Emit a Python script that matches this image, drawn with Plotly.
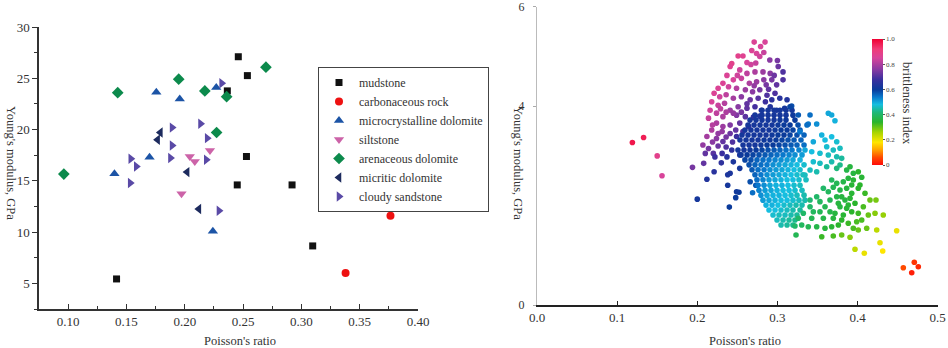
import plotly.graph_objects as go

SERIF = "Liberation Serif, Times New Roman, serif"

# ---------------- Left panel: Young's modulus vs Poisson's ratio by lithology ----------------
mud_x = [0.2459, 0.2537, 0.2365, 0.2529, 0.2450, 0.2920, 0.3097, 0.1415]
mud_y = [27.10, 25.26, 23.77, 17.37, 14.60, 14.60, 8.65, 5.43]
carb_x = [0.3764, 0.3379]
carb_y = [11.60, 6.02]
micro_x = [0.1756, 0.1957, 0.2270, 0.1698, 0.1397, 0.2241]
micro_y = [23.64, 22.99, 24.09, 17.31, 15.69, 10.07]
silt_x = [0.2216, 0.2043, 0.2086, 0.1972]
silt_y = [17.96, 17.37, 16.88, 13.74]
aren_x = [0.1948, 0.1425, 0.2172, 0.2359, 0.2273, 0.0963, 0.2696]
aren_y = [24.91, 23.60, 23.77, 23.21, 19.71, 15.66, 26.08]
micri_x = [0.1791, 0.1767, 0.2020, 0.2121]
micri_y = [19.71, 19.00, 15.85, 12.25]
cloudy_x = [0.2316, 0.1891, 0.2135, 0.2192, 0.1891, 0.1537, 0.1877, 0.2184, 0.1584, 0.1532, 0.2293]
cloudy_y = [24.52, 20.19, 20.56, 19.16, 18.44, 17.15, 17.22, 17.05, 16.40, 14.78, 12.08]

left_x_ticks = [0.10, 0.15, 0.20, 0.25, 0.30, 0.35, 0.40]
left_x_labels = ["0.10", "0.15", "0.20", "0.25", "0.30", "0.35", "0.40"]
left_y_ticks = [5, 10, 15, 20, 25, 30]

# ---------------- Right panel: (Poisson's ratio, Young's modulus, brittleness index) ----------------
outlier_pts = [
    (0.119, 3.27, 0.97), (0.133, 3.37, 0.96), (0.150, 3.00, 0.88), (0.156, 2.60, 0.85),
]
upper_pts = [
    (0.271, 5.29, 0.86), (0.2845, 5.29, 0.85), (0.279, 5.20, 0.85), (0.274, 5.06, 0.85), (0.278, 5.00, 0.84), (0.283, 5.08, 0.83),
    (0.251, 5.01, 0.88), (0.257, 5.01, 0.87), (0.243, 4.86, 0.88), (0.241, 4.80, 0.87), (0.267, 4.84, 0.84), (0.273, 4.87, 0.83),
    (0.2905, 4.93, 0.76), (0.300, 4.92, 0.74), (0.301, 4.80, 0.73),
    (0.253, 4.73, 0.84), (0.262, 4.66, 0.82), (0.272, 4.69, 0.80), (0.282, 4.69, 0.78), (0.291, 4.66, 0.76), (0.307, 4.69, 0.70),
    (0.245, 4.53, 0.85), (0.255, 4.56, 0.83), (0.265, 4.46, 0.80), (0.274, 4.49, 0.78), (0.283, 4.53, 0.76), (0.293, 4.53, 0.74),
    (0.299, 4.43, 0.72), (0.307, 4.53, 0.70),
    (0.232, 4.46, 0.86), (0.226, 4.36, 0.86), (0.239, 4.39, 0.84), (0.249, 4.36, 0.81), (0.260, 4.33, 0.78), (0.269, 4.29, 0.76),
    (0.278, 4.33, 0.74), (0.289, 4.34, 0.72), (0.297, 4.26, 0.70),
    (0.221, 4.26, 0.86), (0.228, 4.19, 0.84), (0.236, 4.23, 0.82), (0.245, 4.16, 0.79), (0.255, 4.19, 0.76), (0.266, 4.13, 0.73),
    (0.276, 4.16, 0.71), (0.285, 4.09, 0.68), (0.293, 4.13, 0.66), (0.303, 4.16, 0.65), (0.312, 4.13, 0.64),
    (0.218, 4.09, 0.85), (0.226, 4.02, 0.83), (0.234, 4.06, 0.81), (0.241, 3.92, 0.78), (0.251, 3.99, 0.76), (0.262, 3.96, 0.72),
    (0.272, 3.99, 0.69), (0.280, 3.92, 0.66), (0.291, 3.99, 0.64), (0.299, 3.92, 0.63), (0.309, 3.96, 0.62),
    (0.216, 3.92, 0.84), (0.224, 3.86, 0.82), (0.232, 3.79, 0.80), (0.249, 3.82, 0.75), (0.260, 3.79, 0.71), (0.270, 3.78, 0.67),
    (0.278, 3.80, 0.64),
    (0.214, 3.76, 0.83), (0.224, 3.66, 0.80), (0.241, 3.62, 0.75), (0.253, 3.66, 0.72), (0.264, 3.59, 0.68),
    (0.218, 3.52, 0.80), (0.231, 3.49, 0.77), (0.241, 3.45, 0.73),
    (0.212, 3.39, 0.79), (0.224, 3.35, 0.76), (0.232, 3.29, 0.72), (0.249, 3.39, 0.68),
    (0.207, 3.22, 0.77), (0.214, 3.15, 0.74), (0.220, 3.05, 0.71), (0.231, 3.05, 0.68), (0.243, 3.12, 0.66),
    (0.237, 2.98, 0.65), (0.253, 3.02, 0.64), (0.210, 3.05, 0.72),
    (0.229, 3.95, 0.82), (0.236, 3.88, 0.80), (0.245, 3.86, 0.77), (0.255, 3.88, 0.74), (0.219, 3.62, 0.81),
    (0.232, 3.59, 0.78), (0.248, 3.52, 0.72), (0.257, 3.49, 0.69), (0.226, 3.45, 0.77), (0.236, 3.38, 0.74),
    (0.244, 3.28, 0.70), (0.219, 3.28, 0.76), (0.226, 3.20, 0.73), (0.236, 3.18, 0.70), (0.262, 4.05, 0.72),
    (0.287, 4.22, 0.70), (0.271, 4.41, 0.77), (0.286, 4.43, 0.74), (0.296, 4.62, 0.73), (0.262, 4.88, 0.85),
    (0.268, 5.12, 0.86), (0.250, 4.62, 0.84), (0.237, 4.62, 0.86),
]
lower_left_pts = [
    (0.194, 2.77, 0.74), (0.208, 2.85, 0.72), (0.212, 2.53, 0.64), (0.221, 2.68, 0.65), (0.222, 2.98, 0.68),
    (0.200, 2.13, 0.62), (0.238, 2.41, 0.62), (0.240, 1.97, 0.60), (0.248, 2.16, 0.60), (0.252, 2.27, 0.60),
    (0.238, 2.62, 0.63), (0.245, 2.88, 0.63), (0.253, 2.75, 0.62), (0.266, 2.48, 0.58), (0.269, 2.26, 0.55),
    (0.230, 2.86, 0.66), (0.249, 2.28, 0.61), (0.241, 2.65, 0.63), (0.273, 2.41, 0.57),
]
core_rows_y = [3.92, 3.82, 3.72, 3.62, 3.52, 3.42, 3.32, 3.22, 3.12, 3.02, 2.92, 2.82,
               2.72, 2.62, 2.52, 2.41, 2.31, 2.21, 2.11, 2.01, 1.91, 1.81, 1.71, 1.61]
core_rows_x = [
    [.2808, .2883, .2958, .3032, .3107, .3182],
    [.2720, .2808, .2883, .2958, .3032, .3107, .3194],
    [.2658, .2733, .2808, .2883, .2958, .3032, .3107, .3219],
    [.2633, .2708, .2783, .2858, .2933, .3007, .3082, .3157, .3257],
    [.2595, .2670, .2745, .2820, .2895, .2970, .3045, .3120, .3194, .3282],
    [.2558, .2633, .2708, .2783, .2858, .2933, .3007, .3082, .3157, .3244, .3332],
    [.2533, .2608, .2683, .2758, .2833, .2907, .2982, .3057, .3132, .3207, .3294],
    [.2571, .2646, .2720, .2795, .2870, .2945, .3020, .3095, .3170, .3244, .3332],
    [.2508, .2583, .2658, .2733, .2808, .2883, .2958, .3032, .3107, .3182, .3269],
    [.2546, .2621, .2695, .2770, .2845, .2920, .2995, .3070, .3145, .3219, .3307],
    [.2595, .2670, .2745, .2820, .2895, .2970, .3045, .3120, .3194, .3282],
    [.2646, .2720, .2795, .2870, .2945, .3020, .3095, .3170, .3244, .3332],
    [.2683, .2758, .2833, .2907, .2982, .3057, .3132, .3207, .3282],
    [.2720, .2795, .2870, .2945, .3020, .3095, .3170, .3244, .3319],
    [.2745, .2820, .2895, .2970, .3045, .3120, .3194, .3269, .3357],
    [.2758, .2833, .2907, .2982, .3057, .3132, .3207, .3282],
    [.2770, .2845, .2920, .2995, .3070, .3145, .3219, .3307],
    [.2795, .2870, .2945, .3020, .3095, .3170, .3244, .3332],
    [.2820, .2895, .2970, .3045, .3120, .3194, .3269, .3344],
    [.2858, .2933, .3007, .3082, .3157, .3232, .3307],
    [.2895, .2970, .3045, .3120, .3194, .3282],
    [.2945, .3020, .3095, .3170, .3244],
    [.2995, .3070, .3145, .3219],
    [.3045, .3120, .3194],
]
core_rows_bi = [
    [.62, .62, .62, .62, .62, .62],
    [.62, .62, .62, .62, .62, .62, .61],
    [.62, .62, .62, .62, .62, .61, .61, .60],
    [.62, .62, .62, .62, .62, .61, .60, .60, .58],
    [.62, .62, .62, .62, .62, .61, .60, .60, .59, .57],
    [.62, .62, .62, .62, .62, .61, .60, .60, .59, .58, .56],
    [.62, .62, .62, .62, .61, .61, .60, .59, .58, .57, .56],
    [.62, .62, .62, .61, .60, .60, .59, .58, .57, .56, .55],
    [.62, .62, .61, .60, .59, .58, .57, .56, .55, .54, .53],
    [.61, .60, .59, .58, .57, .56, .55, .54, .53, .52, .51],
    [.59, .58, .56, .55, .54, .53, .52, .51, .50, .49],
    [.58, .56, .55, .54, .52, .51, .50, .49, .48, .47],
    [.57, .55, .54, .52, .51, .50, .49, .48, .47],
    [.56, .54, .52, .51, .50, .49, .48, .47, .46],
    [.55, .53, .51, .50, .49, .48, .48, .47, .46],
    [.54, .52, .50, .49, .49, .48, .47, .46],
    [.53, .51, .50, .49, .48, .48, .47, .46],
    [.52, .50, .49, .49, .48, .47, .46, .45],
    [.51, .50, .49, .48, .48, .47, .46, .45],
    [.49, .49, .48, .47, .46, .45, .45],
    [.48, .48, .47, .46, .45, .44],
    [.47, .46, .46, .45, .44],
    [.46, .45, .44, .43],
    [.45, .44, .43],
]
cyan_pts = [
    (0.3635, 3.857, 0.50), (0.3677, 3.823, 0.50), (0.3718, 3.708, 0.49), (0.3178, 4.004, 0.58), (0.3261, 3.823, 0.57),
    (0.3407, 3.823, 0.55), (0.3385, 3.642, 0.54), (0.3490, 3.642, 0.52), (0.3282, 3.487, 0.54), (0.3448, 3.286, 0.50),
    (0.3344, 3.119, 0.50), (0.3553, 3.421, 0.49), (0.3594, 3.320, 0.48), (0.3677, 3.386, 0.48), (0.3740, 3.286, 0.47),
    (0.3615, 3.185, 0.47), (0.3697, 3.119, 0.46), (0.3781, 3.153, 0.46), (0.3531, 3.052, 0.47), (0.3428, 3.085, 0.48),
    (0.3635, 3.018, 0.46), (0.3740, 2.984, 0.45), (0.3677, 2.883, 0.45), (0.3448, 2.883, 0.47), (0.3531, 2.851, 0.46),
    (0.3781, 2.817, 0.43), (0.3407, 2.716, 0.46), (0.3490, 2.682, 0.45), (0.3344, 2.616, 0.46), (0.3802, 2.951, 0.44),
    (0.3740, 2.750, 0.42), (0.3615, 2.783, 0.44), (0.3369, 3.622, 0.55), (0.3157, 3.990, 0.59),
]
green_pts = [
    (0.3864, 2.716, 0.37), (0.3947, 2.650, 0.36), (0.3884, 2.549, 0.36), (0.3822, 2.481, 0.37), (0.4052, 2.569, 0.35),
    (0.3927, 2.414, 0.35), (0.4030, 2.414, 0.34), (0.3573, 2.348, 0.40), (0.3635, 2.280, 0.39), (0.3697, 2.368, 0.38),
    (0.3781, 2.314, 0.37), (0.3864, 2.348, 0.36), (0.3927, 2.247, 0.35), (0.4009, 2.348, 0.34), (0.3740, 2.179, 0.37),
    (0.3843, 2.113, 0.36), (0.3906, 2.147, 0.35), (0.3968, 2.046, 0.34), (0.3781, 1.978, 0.36), (0.3864, 1.946, 0.35),
    (0.3927, 1.877, 0.34), (0.3718, 1.845, 0.36), (0.3822, 1.811, 0.35), (0.4009, 1.845, 0.33), (0.4052, 1.710, 0.32),
    (0.3594, 1.978, 0.38), (0.3656, 1.877, 0.37), (0.3490, 2.179, 0.40), (0.3407, 2.113, 0.41), (0.3531, 2.079, 0.39),
    (0.3448, 1.877, 0.39), (0.3323, 1.845, 0.40), (0.3260, 1.744, 0.40), (0.3219, 1.590, 0.40), (0.3303, 1.610, 0.39),
    (0.3385, 1.575, 0.38), (0.3490, 1.575, 0.37), (0.3594, 1.543, 0.36), (0.3677, 1.575, 0.35), (0.3760, 1.610, 0.34),
    (0.3802, 1.710, 0.34), (0.3884, 1.644, 0.33), (0.3989, 1.676, 0.32), (0.4114, 1.543, 0.30), (0.4155, 2.113, 0.30),
    (0.4230, 2.113, 0.29), (0.4218, 1.845, 0.28), (0.4321, 1.811, 0.27), (0.3553, 1.374, 0.33), (0.3697, 1.388, 0.32),
    (0.3802, 1.408, 0.30), (0.3906, 1.362, 0.28), (0.4009, 1.509, 0.30), (0.3232, 1.408, 0.38),
    (0.3656, 2.113, 0.38), (0.3802, 2.179, 0.36), (0.3760, 2.046, 0.36), (0.3884, 2.012, 0.35), (0.3697, 1.744, 0.36),
    (0.3573, 1.744, 0.37), (0.3428, 1.744, 0.38), (0.3531, 1.877, 0.38), (0.3407, 1.978, 0.40), (0.3740, 2.448, 0.38),
    (0.3677, 2.515, 0.39), (0.3947, 2.515, 0.35), (0.4009, 2.682, 0.34), (0.3906, 2.783, 0.36), (0.4093, 2.247, 0.33),
    (0.4072, 1.978, 0.32), (0.4134, 1.811, 0.30), (0.3947, 1.543, 0.32),
]
yellow_red_pts = [
    (0.4239, 1.509, 0.24), (0.4488, 1.495, 0.20), (0.4280, 1.254, 0.20), (0.4314, 1.087, 0.18), (0.3968, 1.121, 0.24),
    (0.4084, 1.040, 0.20),
    (0.4571, 0.750, 0.06), (0.4708, 0.859, 0.04), (0.4758, 0.771, 0.03), (0.4676, 0.650, 0.02),
]

bi_colorscale = [
    [0.00, "#ff0a0a"], [0.06, "#ff4a00"], [0.12, "#ffa200"], [0.18, "#ffe600"],
    [0.26, "#a6d400"], [0.34, "#2ab42c"], [0.42, "#1eb87c"], [0.48, "#16bee0"],
    [0.54, "#0a78cc"], [0.60, "#0a3a9a"], [0.68, "#3b2f9e"], [0.76, "#8a3aa2"],
    [0.85, "#d8449a"], [0.92, "#f03c78"], [1.00, "#f00032"],
]
cbar_ticks = [0, 0.2, 0.4, 0.6, 0.8, 1.0]
cbar_labels = ["0", "0.2", "0.4", "0.6", "0.8", "1.0"]
right_x_ticks = [0.0, 0.1, 0.2, 0.3, 0.4, 0.5]
right_y_ticks = [0, 4, 6]

# -------- assemble right-panel arrays --------
rx, ry, rb = [], [], []
for group in (outlier_pts, upper_pts, lower_left_pts):
    for x, y, b in group:
        rx.append(x); ry.append(y); rb.append(b)
for yv, xs, bs in zip(core_rows_y, core_rows_x, core_rows_bi):
    for x, b in zip(xs, bs):
        rx.append(x); ry.append(yv); rb.append(b)
for group in (cyan_pts, green_pts, yellow_red_pts):
    for x, y, b in group:
        rx.append(x); ry.append(y); rb.append(b)

W, H = 948, 348
fig = go.Figure()

series = [
    ("mudstone", mud_x, mud_y, "square", "#111111", 7),
    ("carbonaceous rock", carb_x, carb_y, "circle", "#ee1111", 8),
    ("microcrystalline dolomite", micro_x, micro_y, "triangle-up", "#1c54a6", 9),
    ("siltstone", silt_x, silt_y, "triangle-down", "#cc63a8", 9),
    ("arenaceous dolomite", aren_x, aren_y, "diamond", "#0c8a4c", 9),
    ("micritic dolomite", micri_x, micri_y, "triangle-left", "#1d2b5e", 9),
    ("cloudy sandstone", cloudy_x, cloudy_y, "triangle-right", "#5a4aa6", 9),
]
for name, xs, ys, sym, col, sz in series:
    fig.add_trace(go.Scatter(x=xs, y=ys, mode="markers", name=name,
                             marker=dict(symbol=sym, color=col, size=sz, line=dict(width=0)),
                             xaxis="x", yaxis="y"))

fig.add_trace(go.Scatter(
    x=rx, y=ry, mode="markers", showlegend=False, xaxis="x2", yaxis="y2",
    marker=dict(size=5.6, color=rb, cmin=0, cmax=1, colorscale=bi_colorscale, line=dict(width=0),
                colorbar=dict(x=872 / W, xanchor="left", xpad=0, ypad=0,
                              y=1 - 102 / H, yanchor="middle", len=126 / H, lenmode="fraction",
                              thickness=11, outlinewidth=0,
                              tickvals=cbar_ticks, ticktext=cbar_labels, ticks="outside", ticklen=2,
                              tickcolor="#555", tickfont=dict(family=SERIF, size=7, color="#444"))),
))

axis_font = dict(family=SERIF, size=13, color="#333")
title_font = dict(family=SERIF, size=12.5, color="#333")
fig.update_layout(
    template="none",
    width=W, height=H, margin=dict(l=0, r=0, t=0, b=0, autoexpand=False),
    paper_bgcolor="white", plot_bgcolor="white",
    font=dict(family=SERIF, color="#333"),
    xaxis=dict(domain=[39 / W, 418 / W], range=[0.075, 0.40], tickvals=left_x_ticks, ticktext=left_x_labels,
               ticks="inside", ticklen=5, tickcolor="#333", showline=True, linecolor="#333", linewidth=1.5,
               showgrid=False, zeroline=False, tickfont=axis_font, automargin=False,
               minor=dict(dtick=0.025, tick0=0.075, ticks="inside", ticklen=3, tickcolor="#333", showgrid=False)),
    yaxis=dict(domain=[1 - 309 / H, 1 - 27 / H], range=[2.5, 30], tickvals=left_y_ticks,
               ticks="outside", ticklen=5, tickcolor="#333", showline=True, linecolor="#333", linewidth=1.5,
               showgrid=False, zeroline=False, tickfont=axis_font, automargin=False,
               minor=dict(dtick=2.5, tick0=2.5, ticks="outside", ticklen=3, tickcolor="#333", showgrid=False)),
    xaxis2=dict(domain=[537 / W, 937.7 / W], range=[0, 0.5], tickvals=right_x_ticks, tickformat=".1f",
                anchor="y2", ticks="inside", ticklen=4, tickcolor="#222", showline=True, linecolor="#222",
                linewidth=1.5, showgrid=False, zeroline=False, tickfont=axis_font, automargin=False),
    yaxis2=dict(domain=[1 - 305 / H, 1 - 6.8 / H], range=[0, 6], tickvals=right_y_ticks, anchor="x2",
                ticks="outside", ticklen=3, tickcolor="#aaa", showline=True, linecolor="#bbb", linewidth=1,
                showgrid=False, zeroline=False, tickfont=dict(family=SERIF, size=12, color="#333"),
                ticklabelstandoff=6, automargin=False),
    legend=dict(x=318 / W, y=1 - 67 / H, xanchor="left", yanchor="top", bgcolor="white",
                bordercolor="#444", borderwidth=1, font=dict(family=SERIF, size=12, color="#333"),
                tracegroupgap=0),
    annotations=[
        dict(text="Young's modulus, GPa", x=11 / W, y=1 - 163 / H, xref="paper", yref="paper",
             xanchor="center", yanchor="middle", textangle=90, showarrow=False, font=title_font),
        dict(text="Poisson's ratio", x=240 / W, y=1 - 341 / H, xref="paper", yref="paper",
             xanchor="center", yanchor="middle", showarrow=False, font=title_font),
        dict(text="Young's modulus, GPa", x=518 / W, y=1 - 163 / H, xref="paper", yref="paper",
             xanchor="center", yanchor="middle", textangle=90, showarrow=False, font=title_font),
        dict(text="Poisson's ratio", x=745 / W, y=1 - 341 / H, xref="paper", yref="paper",
             xanchor="center", yanchor="middle", showarrow=False, font=title_font),
        dict(text="brittleness index", x=907 / W, y=1 - 103 / H, xref="paper", yref="paper",
             xanchor="center", yanchor="middle", textangle=90, showarrow=False, font=title_font),
    ],
)

fig.write_html("out.html", config={"displayModeBar": False},
               post_script="document.body.style.margin='0';document.body.style.padding='0';"
                           "document.body.style.overflow='hidden';")
